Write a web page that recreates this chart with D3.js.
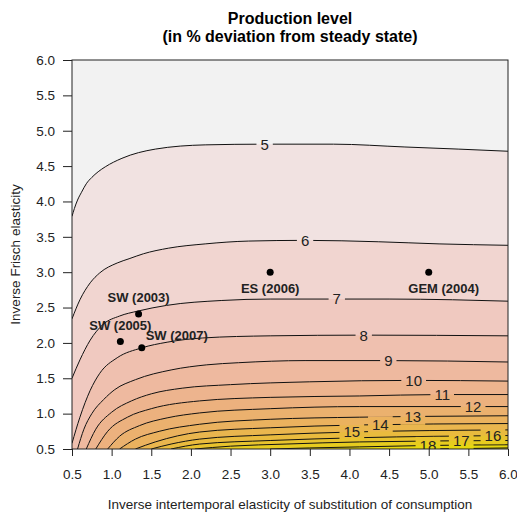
<!DOCTYPE html>
<html>
<head>
<meta charset="utf-8">
<script src="https://cdn.jsdelivr.net/npm/d3@7"></script>
<style>
body { margin: 0; background: #fff; }
text { font-family: "Liberation Sans", Arial, sans-serif; }
</style>
</head>
<body>
<svg id="chart"></svg>
<script>
// contour levels and the lines, [sigma, phi] pairs
const contourLevels = [5, 6, 7, 8, 9, 10, 11, 12, 13, 14, 15, 16, 17, 18, 19];
const contourLines = [
    [[0.5,3.79],[0.53,3.90],[0.57,4.02],[0.62,4.13],[0.68,4.25],[0.75,4.34],[0.83,4.42],[0.92,4.49],[1.13,4.61],[1.55,4.74],[2.18,4.80],[2.93,4.81],[3.8,4.81],[4.7,4.77],[5.38,4.74],[6,4.71]],
    [[0.5,2.34],[0.6,2.61],[0.73,2.85],[0.85,2.99],[1.07,3.13],[1.22,3.19],[1.4,3.26],[1.72,3.34],[2.18,3.40],[2.73,3.44],[3.44,3.45],[4.37,3.43],[5.13,3.40],[6,3.38]],
    [[0.5,1.50],[0.6,1.76],[0.73,2.04],[0.89,2.26],[1.1,2.38],[1.33,2.45],[1.69,2.53],[2.39,2.60],[3.0,2.62],[3.84,2.62],[4.5,2.62],[5.3,2.61],[6,2.59]],
    [[0.5,0.58],[0.6,0.95],[0.73,1.33],[0.85,1.57],[1.07,1.79],[1.38,1.93],[1.7,2.01],[2.15,2.07],[3.0,2.10],[4.2,2.11],[6,2.10]],
    [[0.57,0.5],[0.65,0.78],[0.75,1.0],[0.9,1.2],[1.04,1.34],[1.3,1.48],[1.76,1.62],[2.2,1.69],[2.6,1.72],[3.44,1.75],[4.47,1.75],[6,1.73]],
    [[0.68,0.5],[0.8,0.78],[1.0,1.02],[1.25,1.18],[1.5,1.28],[1.89,1.36],[2.5,1.41],[3.5,1.45],[4.8,1.47],[6,1.46]],
    [[0.8,0.5],[0.95,0.75],[1.2,0.95],[1.5,1.07],[2.11,1.18],[3,1.23],[4.13,1.25],[5.16,1.27],[6,1.27]],
    [[0.95,0.5],[1.1,0.68],[1.35,0.83],[1.7,0.94],[2.11,1.01],[3,1.07],[4.13,1.10],[5.56,1.10],[6,1.10]],
    [[1.1,0.5],[1.3,0.64],[1.6,0.75],[2.11,0.85],[3,0.92],[4.13,0.95],[4.8,0.96],[6,0.97]],
    [[1.3,0.5],[1.55,0.6],[2.11,0.74],[3,0.80],[4.13,0.84],[6,0.86]],
    [[1.5,0.5],[1.75,0.57],[2.11,0.64],[3,0.70],[4.03,0.74],[6,0.77]],
    [[1.75,0.5],[2.11,0.57],[3,0.62],[4.13,0.66],[6,0.69]],
    [[2.05,0.5],[2.5,0.54],[3.2,0.57],[4.13,0.60],[6,0.62]],
    [[3.0,0.5],[3.5,0.515],[4.13,0.53],[5,0.55],[6,0.56]],
    [[5.0,0.5],[6,0.515]]
];
// where along each line the level number sits (sigma)
const labelSigma = [2.93, 3.44, 3.84, 4.18, 4.49, 4.81, 5.17, 5.56, 4.80, 4.39, 4.03, 5.81, 5.41, 4.99, null];

const modelNames = ["SW (2003)", "SW (2005)", "SW (2007)", "ES (2006)", "GEM (2004)"];
const modelSigma = [1.34, 1.11, 1.38, 3.0, 5.0];
const modelPhi = [2.41, 2.02, 1.93, 3.0, 3.0];

const xTicks = [0.5, 1, 1.5, 2, 2.5, 3, 3.5, 4, 4.5, 5, 5.5, 6];
const yTicks = [0.5, 1, 1.5, 2, 2.5, 3, 3.5, 4, 4.5, 5, 5.5, 6];

const width = 517, height = 517;
const margin = {top: 60, right: 9, bottom: 68, left: 72};

const svg = d3.select("#chart").attr("width", width).attr("height", height);

const x = d3.scaleLinear().domain([0.5, 6]).range([margin.left, width - margin.right]);
const y = d3.scaleLinear().domain([0.5, 6]).range([height - margin.bottom, margin.top]);

// terrain.colors style ramp: yellow at the top level, grey95 at the bottom
function hsv(h, s, v) {
    let i = Math.floor(h * 6), f = h * 6 - i;
    let p = v * (1 - s), q = v * (1 - f * s), t = v * (1 - (1 - f) * s);
    let rgb = [[v, t, p], [q, v, p]][i % 2 === 0 ? 0 : 1];
    return d3.rgb(rgb[0] * 255, rgb[1] * 255, rgb[2] * 255).formatHex();
}
function bandColor(level) {
    let t = (19 - level) / 15;
    return hsv((1 - t) / 6, 1 - t, 0.9 + 0.05 * t);
}

const defs = svg.append("defs");
defs.append("clipPath").attr("id", "plotclip")
    .append("rect")
    .attr("x", x(0.5)).attr("y", y(6))
    .attr("width", x(6) - x(0.5)).attr("height", y(0.5) - y(6));
const mask = defs.append("mask").attr("id", "gaps")
    .attr("maskUnits", "userSpaceOnUse")
    .attr("x", 0).attr("y", 0).attr("width", width).attr("height", height);
mask.append("rect").attr("width", width).attr("height", height).attr("fill", "#fff");

const plot = svg.append("g").attr("clip-path", "url(#plotclip)");

plot.append("rect")
    .attr("x", x(0.5)).attr("y", y(6))
    .attr("width", x(6) - x(0.5)).attr("height", y(0.5) - y(6))
    .attr("fill", bandColor(4));

const area = d3.area()
    .x(d => x(d[0]))
    .y0(y(0.5))
    .y1(d => y(d[1]))
    .curve(d3.curveMonotoneX);
const line = d3.line()
    .x(d => x(d[0]))
    .y(d => y(d[1]))
    .curve(d3.curveMonotoneX);

plot.selectAll("path.band")
    .data(contourLines)
    .join("path")
    .attr("class", "band")
    .attr("d", area)
    .attr("fill", (d, i) => bandColor(contourLevels[i]));

plot.append("g")
    .attr("mask", "url(#gaps)")
    .selectAll("path")
    .data(contourLines)
    .join("path")
    .attr("d", line)
    .attr("fill", "none")
    .attr("stroke", "#111")
    .attr("stroke-width", 1);

function phiAt(pts, s) {
    for (let k = 1; k < pts.length; k++) {
        if (s <= pts[k][0]) {
            let a = pts[k - 1], b = pts[k];
            return a[1] + (b[1] - a[1]) * (s - a[0]) / (b[0] - a[0]);
        }
    }
    return pts[pts.length - 1][1];
}

const labelData = contourLevels
    .map((lv, i) => ({lv: lv, s: labelSigma[i], p: labelSigma[i] == null ? null : phiAt(contourLines[i], labelSigma[i])}))
    .filter(d => d.s != null);

const labels = plot.append("g")
    .selectAll("text")
    .data(labelData)
    .join("text")
    .attr("x", d => x(d.s))
    .attr("y", d => y(d.p))
    .attr("dy", "0.36em")
    .attr("text-anchor", "middle")
    .attr("font-size", 15)
    .attr("fill", "#222")
    .text(d => d.lv);

labels.each(function() {
    let b = this.getBBox();
    mask.append("rect")
        .attr("x", b.x - 4).attr("y", b.y)
        .attr("width", b.width + 8).attr("height", b.height)
        .attr("fill", "#000");
});

// axes
const xAxis = svg.append("g")
    .attr("transform", `translate(0,${y(0.5)})`)
    .call(d3.axisBottom(x).tickValues(xTicks).tickFormat(d3.format(".1f")).tickSize(7).tickPadding(13));
const yAxis = svg.append("g")
    .attr("transform", `translate(${x(0.5)},0)`)
    .call(d3.axisLeft(y).tickValues(yTicks).tickFormat(d3.format(".1f")).tickSize(9).tickPadding(8));
[xAxis, yAxis].forEach(g => {
    g.select(".domain").remove();
    g.selectAll("line").attr("stroke", "#222");
    g.selectAll("text").attr("font-size", 13.5).attr("fill", "#222")
        .style("font-family", "'Liberation Sans', Arial, sans-serif");
});
xAxis.selectAll("text").attr("dy", "0.71em");

svg.append("rect")
    .attr("x", x(0.5)).attr("y", y(6))
    .attr("width", x(6) - x(0.5)).attr("height", y(0.5) - y(6))
    .attr("fill", "none")
    .attr("stroke", "#222")
    .attr("stroke-width", 1);

// models
const labelOffset = [[0, -16], [0, -16], [35, -12], [0, 16], [15, 16]];
const models = svg.append("g");
models.selectAll("circle")
    .data(modelNames)
    .join("circle")
    .attr("cx", (d, i) => x(modelSigma[i]))
    .attr("cy", (d, i) => y(modelPhi[i]))
    .attr("r", 3.5)
    .attr("fill", "#000");
models.selectAll("text")
    .data(modelNames)
    .join("text")
    .attr("x", (d, i) => x(modelSigma[i]) + labelOffset[i][0])
    .attr("y", (d, i) => y(modelPhi[i]) + labelOffset[i][1])
    .attr("dy", "0.35em")
    .attr("text-anchor", "middle")
    .attr("font-size", 13)
    .attr("font-weight", "bold")
    .attr("fill", "#222")
    .text(d => d);

// titles
const cx = (x(0.5) + x(6)) / 2;
svg.append("text")
    .attr("x", cx).attr("y", 24)
    .attr("text-anchor", "middle")
    .attr("font-size", 16).attr("font-weight", "bold")
    .text("Production level");
svg.append("text")
    .attr("x", cx).attr("y", 42)
    .attr("text-anchor", "middle")
    .attr("font-size", 16).attr("font-weight", "bold")
    .text("(in % deviation from steady state)");
svg.append("text")
    .attr("x", cx).attr("y", 509)
    .attr("text-anchor", "middle")
    .attr("font-size", 13.5).attr("fill", "#222")
    .text("Inverse intertemporal elasticity of substitution of consumption");
svg.append("text")
    .attr("transform", `translate(20,${(y(0.5) + y(6)) / 2}) rotate(-90)`)
    .attr("text-anchor", "middle")
    .attr("font-size", 13.5).attr("fill", "#222")
    .text("Inverse Frisch elasticity");
</script>
</body>
</html>
